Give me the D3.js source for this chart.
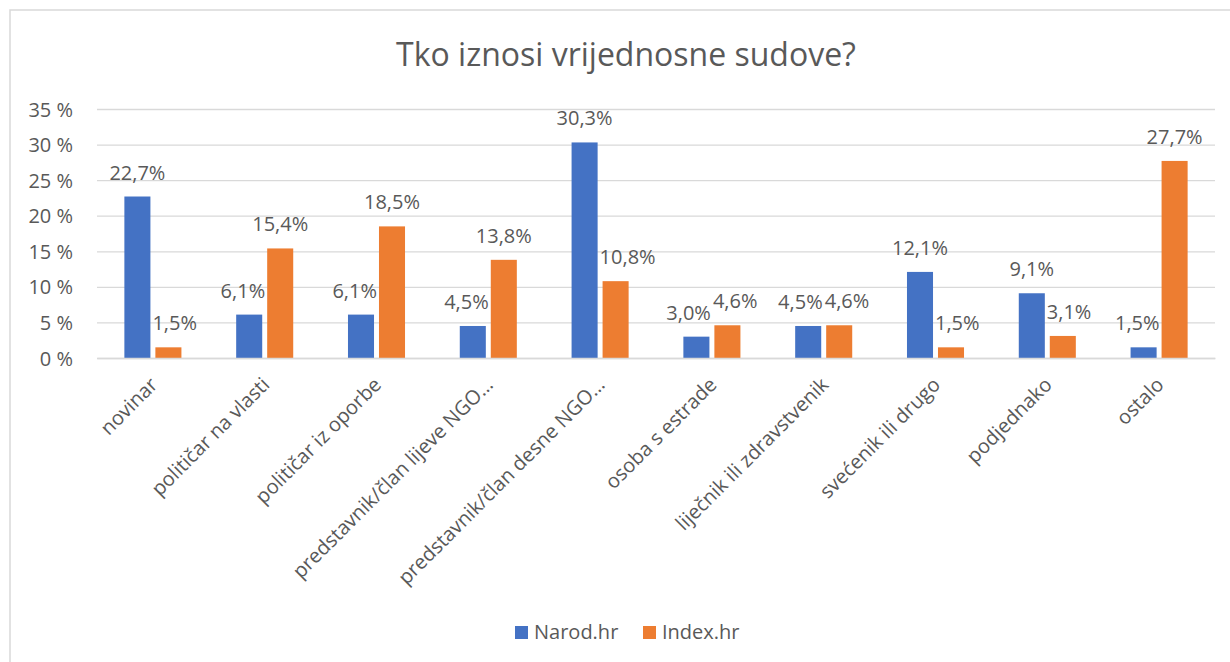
<!DOCTYPE html>
<html><head><meta charset="utf-8">
<script src="https://cdn.jsdelivr.net/npm/d3@7"></script>
<style>body{margin:0;background:#fff;} text{font-family:"Open Sans",sans-serif;fill:#595959;}</style>
</head><body>
<svg id="c" width="1230" height="662"></svg>
<script>
const title = "Tko iznosi vrijednosne sudove?";
const categories = ["novinar","političar na vlasti","političar iz oporbe","predstavnik/član lijeve NGO…","predstavnik/član desne NGO…","osoba s estrade","liječnik ili zdravstvenik","svećenik ili drugo","podjednako","ostalo"];
const seriesNames = ["Narod.hr","Index.hr"];
const narodValues = [22.7,6.1,6.1,4.5,30.3,3.0,4.5,12.1,9.1,1.5];
const indexValues = [1.5,15.4,18.5,13.8,10.8,4.6,4.6,1.5,3.1,27.7];
const yTicks = [0,5,10,15,20,25,30,35];
const colors = ["#4472C4","#ED7D31"];

const svg = d3.select("#c");
svg.append("rect").attr("x",10).attr("y",10).attr("width",1400).attr("height",800)
  .attr("fill","none").attr("stroke","#d9d9d9").attr("stroke-width",1.5);

const pLeft=97, pRight=1215, pTop=109, pBottom=358;
const y = d3.scaleLinear().domain([0,35]).range([pBottom,pTop]);
const x0 = d3.scaleBand().domain(categories).range([pLeft,pRight]);
const x1 = d3.scaleBand().domain(seriesNames).range([0,x0.bandwidth()]).paddingInner(0.16).paddingOuter(0.883);

svg.append("text").attr("x",626).attr("y",66).attr("text-anchor","middle")
  .style("font-size","32px").text(title);

const yAxis = d3.axisLeft(y).tickValues(yTicks).tickSize(-(pRight-pLeft)).tickFormat(d=>d+" %");
const ga = svg.append("g").attr("transform",`translate(${pLeft},0)`).call(yAxis);
ga.select(".domain").remove();
ga.selectAll(".tick line").attr("stroke","#d9d9d9").attr("stroke-width",1.3);
ga.selectAll(".tick text").attr("x",-24).attr("dy","0.35em").style("font-size","20px").attr("fill","#595959");

const data = categories.map((c,i)=>({c, vals:[narodValues[i], indexValues[i]]}));
const g = svg.append("g");
const groups = g.selectAll("g.grp").data(data).join("g").attr("transform",d=>`translate(${x0(d.c)},0)`);
groups.selectAll("rect").data(d=>d.vals.map((v,k)=>({v,k}))).join("rect")
  .attr("x",d=>x1(seriesNames[d.k])).attr("width",x1.bandwidth())
  .attr("y",d=>y(d.v)).attr("height",d=>y(0)-y(d.v)).attr("fill",d=>colors[d.k]);

// data labels with simple collision avoidance (against neighbouring bar and each other)
const gap = 2;
groups.each(function(d){
  const grp = d3.select(this);
  const labs = d.vals.map((v,k)=>{
    const t = grp.append("text").attr("class","lbl").attr("text-anchor","middle")
      .style("font-size","20px").attr("y", y(v)-17).text(v.toFixed(1).replace(".",",")+"%");
    const w = t.node().getComputedTextLength();
    return {t, v, k, w, cx: x1(seriesNames[k])+x1.bandwidth()/2, top: y(v)-32, bot: y(v)-13};
  });
  labs.forEach(L=>{
    const o = 1-L.k;
    const bx0 = x1(seriesNames[o]), bx1 = bx0 + x1.bandwidth(), btop = y(d.vals[o]);
    const lx0 = L.cx - L.w/2, lx1 = L.cx + L.w/2;
    if (L.bot > btop && lx1 > bx0 && lx0 < bx1) {
      if (o < L.k) L.cx += (bx1 + gap) - lx0; else L.cx -= lx1 - (bx0 - gap);
    }
  });
  const [A,B] = labs;
  const ov = (A.cx + A.w/2 + gap) - (B.cx - B.w/2);
  if (ov > 0 && A.bot > B.top && B.bot > A.top) { A.cx -= ov/2; B.cx += ov/2; }
  labs.forEach(L=>L.t.attr("x", L.cx));
});

const xAxis = d3.axisBottom(x0).tickSize(0).tickFormat("");
const gx = svg.append("g").attr("transform",`translate(0,${pBottom})`).call(xAxis);
gx.select(".domain").attr("stroke","#d9d9d9").attr("stroke-width",1.5);
gx.selectAll(".tick").each(function(d){
  d3.select(this).append("text")
    .attr("transform","translate(6,28) rotate(-45)")
    .attr("text-anchor","end").style("font-size","20px").attr("fill","#595959").text(d);
});

const lg = svg.append("g").attr("transform","translate(515,626)");
const items = [{n:seriesNames[0],x:0},{n:seriesNames[1],x:128}];
items.forEach((it,i)=>{
  lg.append("rect").attr("x",it.x).attr("y",0).attr("width",13).attr("height",13).attr("fill",colors[i]);
  lg.append("text").attr("x",it.x+19).attr("y",12.5).style("font-size","20px").text(it.n);
});
</script>
</body></html>
